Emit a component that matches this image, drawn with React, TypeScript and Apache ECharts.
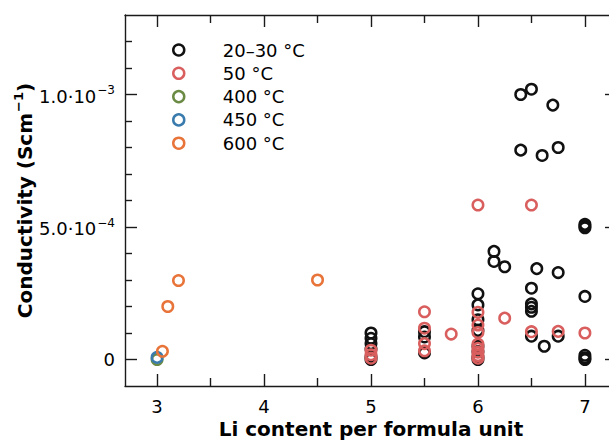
import React, { useEffect, useRef } from "react";
import * as echarts from "echarts";

const FONT = '"DejaVu Sans", "Liberation Sans", sans-serif';

const seriesNames = ["20–30 °C", "50 °C", "400 °C", "450 °C", "600 °C"];
const seriesColors = ["#111111", "#d95f5e", "#6b8b45", "#3a7bad", "#e8743a"];

// [Li content, conductivity (S/cm)]
const rt2030: number[][] = [
  [5, 1.0e-4], [5, 0.8e-4], [5, 0.6e-4], [5, 0.4e-4], [5, 0.1e-4], [5, 0],
  [5.5, 1.05e-4], [5.5, 0.85e-4], [5.5, 0.25e-4],
  [6, 2.48e-4], [6, 2.06e-4], [6, 1.5e-4], [6, 1.1e-4], [6, 0.5e-4], [6, 0.3e-4], [6, 0.1e-4], [6, 0],
  [6.15, 4.08e-4], [6.15, 3.7e-4], [6.25, 3.5e-4],
  [6.4, 1.0e-3], [6.4, 7.9e-4], [6.5, 1.02e-3], [6.5, 2.69e-4], [6.5, 2.1e-4], [6.5, 1.97e-4], [6.5, 1.82e-4], [6.5, 0.88e-4],
  [6.55, 3.43e-4], [6.6, 7.7e-4], [6.62, 0.5e-4], [6.7, 9.6e-4], [6.75, 8.0e-4], [6.75, 3.28e-4], [6.75, 0.88e-4],
  [7, 5.1e-4], [7, 5.03e-4], [7, 4.97e-4], [7, 2.38e-4], [7, 0.16e-4], [7, 0.06e-4], [7, 0],
];
const t50: number[][] = [
  [5, 0.35e-4], [5, 0.18e-4], [5, 0.05e-4],
  [5.5, 1.8e-4], [5.5, 1.18e-4], [5.5, 0.6e-4], [5.5, 0.33e-4],
  [5.75, 0.96e-4],
  [6, 5.83e-4], [6, 1.78e-4], [6, 1.3e-4], [6, 1.02e-4], [6, 0.58e-4], [6, 0.42e-4], [6, 0.28e-4], [6, 0.15e-4], [6, 0.05e-4],
  [6.25, 1.56e-4],
  [6.5, 5.83e-4], [6.5, 1.05e-4], [6.75, 1.06e-4], [7, 1.0e-4],
];
const t400: number[][] = [[3, 0]];
const t450: number[][] = [[3, 0.08e-4]];
const t600: number[][] = [[3.05, 0.31e-4], [3.1, 2.0e-4], [3.2, 2.98e-4], [4.5, 3.0e-4]];
const allSeries = [rt2030, t50, t400, t450, t600];

const xMin = 2.7;
const xMax = 7.3;
const xMajorTicks = [3, 4, 5, 6, 7];
const xMinorTicks = [3.5, 4.5, 5.5, 6.5];
const yMin = -1e-4;
const yMax = 1.3e-3;
const yMajorTicks = [0, 5e-4, 1e-3];
const yMajorLabels = ["{b|0}", "{b|5.0·10}{s|−4}", "{b|1.0·10}{s|−3}"];
const yMinorTicks = [1e-4, 2e-4, 3e-4, 4e-4, 6e-4, 7e-4, 8e-4, 9e-4, 1.1e-3, 1.2e-3];

const xTitle = "Li content per formula unit";
const yTitle = "{t|Conductivity (Scm}{s|−1}{t|)}";

const AXIS_COLOR = "#1a1a1a";
const AXIS_W = 1.4;

export default function App() {
  const ref = useRef<HTMLDivElement>(null);
  useEffect(() => {
    document.documentElement.style.overflow = "hidden";
    document.body.style.overflow = "hidden";
    const chart = echarts.init(ref.current!, null, { renderer: "svg" });

    const xBase = (position: string, ticks: number[], len: number, showLine: boolean, labels: boolean) => ({
      type: "value",
      position,
      min: xMin,
      max: xMax,
      axisLine: { show: showLine, onZero: false, lineStyle: { color: AXIS_COLOR, width: AXIS_W } },
      axisTick: { show: true, inside: true, length: len, customValues: ticks, lineStyle: { color: AXIS_COLOR, width: AXIS_W } },
      axisLabel: labels
        ? { show: true, customValues: xMajorTicks, fontSize: 18, fontFamily: FONT, color: "#000", margin: 11 }
        : { show: false },
      splitLine: { show: false },
    });
    const yBase = (position: string, ticks: number[], len: number, showLine: boolean, labels: boolean) => ({
      type: "value",
      position,
      min: yMin,
      max: yMax,
      axisLine: { show: showLine, onZero: false, lineStyle: { color: AXIS_COLOR, width: AXIS_W } },
      axisTick: { show: true, inside: true, length: len, customValues: ticks, lineStyle: { color: AXIS_COLOR, width: AXIS_W } },
      axisLabel: labels
        ? {
            show: true,
            customValues: yMajorTicks,
            margin: 10,
            color: "#000",
            formatter: (v: number) => {
              const i = yMajorTicks.findIndex((t) => Math.abs(t - v) < 1e-12);
              return i >= 0 ? yMajorLabels[i] : "";
            },
            rich: {
              b: { fontSize: 18, fontFamily: FONT, color: "#000", verticalAlign: "bottom" },
              s: { fontSize: 12, fontFamily: FONT, color: "#000", verticalAlign: "bottom", padding: [0, 0, 9, 1] },
            },
          }
        : { show: false },
      splitLine: { show: false },
    });

    const xAxes: any[] = [
      {
        ...xBase("bottom", xMajorTicks, 12, true, true),
        name: xTitle,
        nameLocation: "middle",
        nameGap: 33,
        nameMoveOverlap: false,
        nameTextStyle: { fontSize: 20, fontWeight: "bold", fontFamily: FONT, color: "#000" },
      },
      xBase("bottom", xMinorTicks, 8, false, false),
      xBase("top", xMajorTicks, 12, true, false),
      xBase("top", xMinorTicks, 8, false, false),
    ];
    const yAxes: any[] = [
      {
        ...yBase("left", yMinorTicks, 7, true, true),
        name: yTitle,
        nameLocation: "middle",
        nameRotate: 90,
        nameGap: 90,
        nameMoveOverlap: false,
        nameTextStyle: {
          color: "#000",
          rich: {
            t: { fontSize: 20, fontWeight: "bold", fontFamily: FONT, color: "#000", verticalAlign: "bottom" },
            s: { fontSize: 13, fontWeight: "bold", fontFamily: FONT, color: "#000", verticalAlign: "bottom", padding: [0, 0, 10, 1] },
          },
        },
      },
      yBase("left", yMajorTicks, 12, false, false),
      yBase("right", yMinorTicks, 7, true, false),
      yBase("right", yMajorTicks, 12, false, false),
    ];

    chart.setOption({
      animation: false,
      grid: { left: 125, right: 8, top: 15, bottom: 58, containLabel: false, outerBoundsMode: "none" },
      legend: {
        orient: "vertical",
        left: 167,
        top: 36,
        itemWidth: 78,
        itemHeight: 11,
        itemGap: 5.3,
        textStyle: { fontSize: 18, fontFamily: FONT, color: "#000", lineHeight: 18 },
        data: seriesNames.map((n, i) => ({
          name: n,
          icon: "circle",
          itemStyle: { color: "rgba(0,0,0,0)", borderColor: seriesColors[i], borderWidth: 2.5 },
        })),
      },
      xAxis: xAxes,
      yAxis: yAxes,
      series: allSeries.map((d, i) => ({
        type: "scatter",
        name: seriesNames[i],
        xAxisIndex: 0,
        yAxisIndex: 0,
        data: d,
        symbol: "circle",
        symbolSize: 10.5,
        itemStyle: { color: "rgba(0,0,0,0)", borderColor: seriesColors[i], borderWidth: 2.5, opacity: 1 },
      })),
    });
    return () => chart.dispose();
  }, []);
  return (
    <div
      ref={ref}
      style={{ position: "fixed", left: 0, top: 0, width: 625, height: 444, background: "#fff" }}
    />
  );
}
